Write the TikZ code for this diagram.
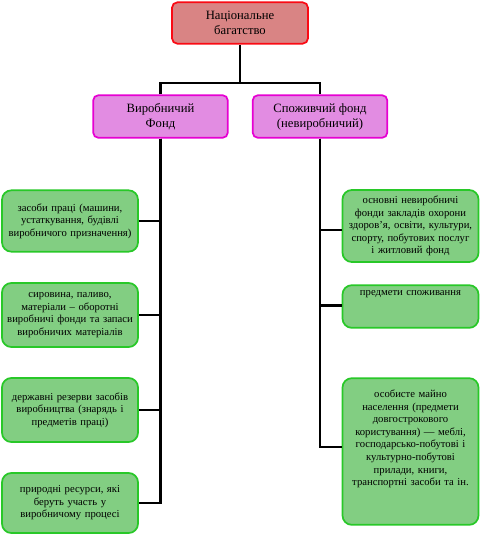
\documentclass[tikz,border=0pt]{standalone}
\usepackage{fontspec}
\setmainfont{Liberation Serif}
\usetikzlibrary{positioning}
\definecolor{natfill}{RGB}{217,132,132}
\definecolor{natline}{RGB}{250,10,20}
\definecolor{fondfill}{RGB}{226,140,226}
\definecolor{fondline}{RGB}{230,0,210}
\definecolor{itemfill}{RGB}{130,206,130}
\definecolor{itemline}{RGB}{40,200,40}
\tikzset{natbox/.style={draw=natline,fill=natfill,line width=1.3pt,rounded corners=4pt,
    minimum width=102pt,minimum height=31pt,align=center,font=\fontsize{9.5}{11.2}\selectfont}}
\tikzset{fondbox/.style={draw=fondline,fill=fondfill,line width=1.3pt,rounded corners=4pt,
    minimum width=101pt,minimum height=32pt,align=center,font=\fontsize{9.5}{11.2}\selectfont}}
\tikzset{itembox/.style={draw=itemline,fill=itemfill,line width=1.3pt,rounded corners=7pt,
    minimum width=102pt,text width=100pt,align=center,inner xsep=1pt,inner ysep=2pt,
    font=\fontsize{8}{9.4}\selectfont}}
\tikzset{link/.style={line width=2.2pt,black}}

\begin{document}
\begin{tikzpicture}[x=0.75pt,y=-0.75pt]
\useasboundingbox (0,0) rectangle (480,536);
% \draw[help lines,step=20] (0,0) grid (480,536);
\node (nat) [natbox] at (240,23) {Національне\\багатство};
\node (fondV) [fondbox] at (160.5,116.5) {Виробничий\\Фонд};
\node (fondS) [fondbox] at (320,116.5) {Споживчий фонд\\(невиробничий)};
\coordinate (split) at (240,83);
%
\node (zasoby) [itembox,minimum height=46pt] at (70,221) {засоби праці (машини,\\устаткування, будівлі\\виробничого призначення)};
\node (syrovyna) [itembox,minimum height=48pt] at (70,315) {сировина, паливо,\\матеріали -- оборотні\\виробничі фонди та запаси\\виробничих матеріалів};
\node (rezervy) [itembox,minimum height=48pt] at (70,410) {державні резерви засобів\\виробництва (знарядь і\\предметів праці)};
\node (resursy) [itembox,minimum height=45pt] at (70,503) {природні ресурси, які\\беруть участь у\\виробничому процесі};
%
\node (osnovni) [itembox,minimum height=54pt] at (410.5,226) {основні невиробничі\\фонди закладів охорони\\здоров'я, освіти, культури,\\спорту, побутових послуг\\і житловий фонд};
\node (predmety) [itembox,minimum height=32pt,text height=6pt,text depth=22pt] at (410.5,306.5) {предмети споживання};
\node (majno) [itembox,minimum height=110pt] at (410.5,451.5) {особисте майно\\населення (предмети\\довгострокового\\користування) --- меблі,\\господарсько-побутові і\\культурно-побутові\\прилади, книги,\\транспортні засоби та ін.\\[11pt]\mbox{}};
%
\draw[link] (nat) -- (split);
\draw[link] (fondV.north) |- (split) -| (fondS.north);
\draw[link] (fondV.south) |- (zasoby.east);
\draw[link] (fondV.south) |- (syrovyna.east);
\draw[link] (fondV.south) |- (rezervy.east);
\draw[link] (fondV.south) |- (resursy.east);
\draw[link] (fondS.south) |- ([yshift=-3pt]osnovni.west);
\draw[link] (fondS.south) |- ([yshift=1pt]predmety.west);
\draw[link] (fondS.south) |- ([yshift=3.4pt]majno.west);
%
\end{tikzpicture}
\end{document}
